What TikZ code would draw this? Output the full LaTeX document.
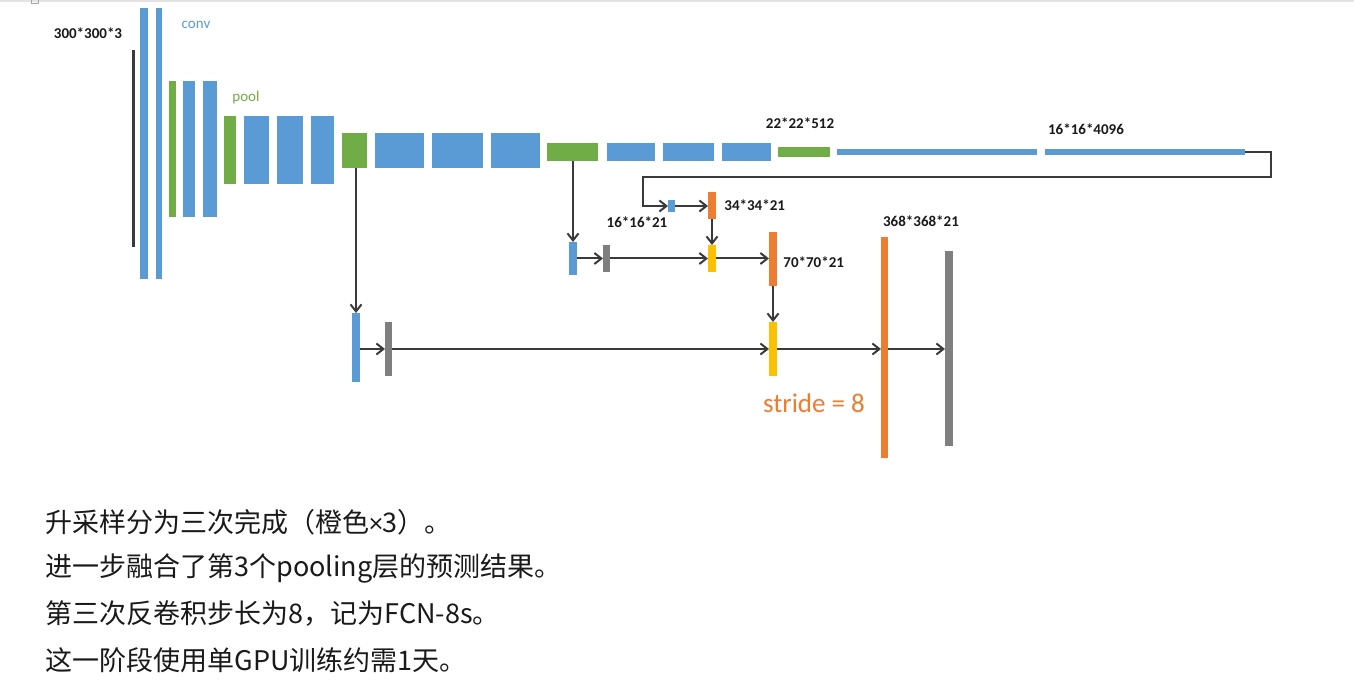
\documentclass[tikz,border=0pt]{standalone}
\usepackage{fontspec}
\setmainfont{Carlito}
\newfontfamily\cjk{Noto Sans CJK SC}
\usetikzlibrary{arrows.meta,positioning}

\definecolor{convblue}{HTML}{5B9BD5}
\definecolor{poolgreen}{HTML}{70AD47}
\definecolor{uporange}{HTML}{ED7D31}
\definecolor{fuseyellow}{HTML}{FFC000}
\definecolor{cropgray}{HTML}{7F7F7F}
\definecolor{linegray}{HTML}{3A3A3A}
\definecolor{textblack}{HTML}{1A1A1A}

\tikzset{
  blk/.style 2 args={rectangle, inner sep=0pt, outer sep=0pt,
    minimum width=#1*0.5pt, minimum height=#2*0.5pt},
  convbar/.style 2 args={blk={#1}{#2}, fill=convblue},
  poolbar/.style 2 args={blk={#1}{#2}, fill=poolgreen},
  upbar/.style 2 args={blk={#1}{#2}, fill=uporange},
  fusebar/.style 2 args={blk={#1}{#2}, fill=fuseyellow},
  cropbar/.style 2 args={blk={#1}{#2}, fill=cropgray},
  link/.style={draw=linegray, line width=1pt},
  arr/.style={link, -{Straight Barb[length=3.5pt,width=5.5pt]}},
  dim/.style={inner sep=0pt, text=textblack, font=\bfseries\fontsize{7.5}{9}\selectfont},
  tag/.style={inner sep=0pt, font=\fontsize{7.5}{9}\selectfont},
  note/.style={anchor=west, inner sep=0pt, text=textblack,
    font=\cjk\fontsize{13.5}{16}\selectfont},
}

\begin{document}
\begin{tikzpicture}[x=0.5pt,y=-0.5pt]
  \useasboundingbox (0,0) rectangle (1354,689);
  \fill[white] (0,0) rectangle (1354,689);
  \draw[line width=1.5pt, gray!22] (0,1) -- (1354,1);
  \draw[line width=0.4pt, gray!70] (31,-3) rectangle (38,3);

  % encoder
  \node[blk={3}{197}, fill=linegray] (img) at (133.5,148.5) {};
  \node[convbar={8}{271}] (c11) at (144,143.5) {};
  \node[convbar={6}{271}] (c12) at (159,143.5) {};
  \node[poolbar={7}{136}] (p1) at (172.5,149) {};
  \node[convbar={12}{136}] (c21) at (189,149) {};
  \node[convbar={14}{136}] (c22) at (210,149) {};
  \node[poolbar={12}{68}] (p2) at (230,150) {};
  \node[convbar={25}{68}] (c31) at (256.5,150) {};
  \node[convbar={26}{68}] (c32) at (290,150) {};
  \node[convbar={23}{68}] (c33) at (322.5,150) {};
  \node[poolbar={25}{35}] (p3) at (354.5,150.5) {};
  \node[convbar={49}{35}] (c41) at (399.5,150.5) {};
  \node[convbar={51}{35}] (c42) at (457.5,150.5) {};
  \node[convbar={49}{35}] (c43) at (515.5,150.5) {};
  \node[poolbar={51}{18}] (p4) at (572.5,152) {};
  \node[convbar={48}{18}] (c51) at (631,152) {};
  \node[convbar={51}{18}] (c52) at (688.5,152) {};
  \node[convbar={49}{18}] (c53) at (746.5,152) {};
  \node[poolbar={52}{10}] (p5) at (804,152) {};
  \node[convbar={200}{6}] (fc6) at (937,152) {};
  \node[convbar={200}{6}] (fc7) at (1145,152) {};

  % decoder
  \node[convbar={7}{12}] (score32) at (671.5,206) {};
  \node[upbar={8}{27}] (up2a) at (712,205.5) {};
  \node[convbar={8}{33}] (score16) at (573,258.5) {};
  \node[cropbar={7}{27}] (crop16) at (606.5,258.5) {};
  \node[fusebar={8}{27}] (fuse16) at (712,258.5) {};
  \node[upbar={8}{54}] (up2b) at (773,259) {};
  \node[convbar={8}{69}] (score8) at (356,347.5) {};
  \node[cropbar={7}{54}] (crop8) at (388.5,349) {};
  \node[fusebar={8}{54}] (fuse8) at (773,349) {};
  \node[upbar={7}{221}] (up8) at (884.5,347.5) {};
  \node[cropbar={8}{195}] (out) at (949,348.5) {};

  % connectors
  \coordinate (back) at (643,177);
  \draw[arr] (fc7.east) -| ++(26,25) -- (back) |- (score32.west);
  \draw[arr] (score32.east) -- (score32.east -| up2a.west);
  \draw[arr] (up2a.south) -- (fuse16.north);
  \draw[arr] (p4.south -| score16.north) -- (score16.north);
  \draw[arr] (score16.east) -- (crop16.west);
  \draw[arr] (crop16.east) -- (fuse16.west);
  \draw[arr] (fuse16.east) -- (fuse16.east -| up2b.west);
  \draw[arr] (up2b.south) -- (fuse8.north);
  \draw[arr] (p3.south -| score8.north) -- (score8.north);
  \draw[arr] (crop8.west -| score8.east) -- (crop8.west);
  \draw[arr] (crop8.east) -- (fuse8.west);
  \draw[arr] (fuse8.east) -- (fuse8.east -| up8.west);
  \draw[arr] (fuse8.east -| up8.east) -- (fuse8.east -| out.west);

  % labels
  \node[dim] (t300) at (88,33) {300*300*3};
  \node[tag, text=convblue] (tconv) at (196,25) {conv};
  \node[tag, text=poolgreen] (tpool) at (246,98) {pool};
  \node[dim] (t512) at (800,123) {22*22*512};
  \node[dim] (t4096) at (1086,129) {16*16*4096};
  \node[dim, right=4pt of up2a] (t34) {34*34*21};
  \node[dim] (t16) at (637,222) {16*16*21};
  \node[dim, anchor=west] (t70) at (783,262) {70*70*21};
  \node[dim] (t368) at (921,221) {368*368*21};
  \node[inner sep=0pt, text=uporange, font=\fontsize{13.5}{16}\selectfont]
    (tstride) at (814,403) {stride = 8};

  % notes
  \node[note] (n1) at (45,522) {升采样分为三次完成（橙色{\rmfamily ×}3）。};
  \node[note] (n2) at (45,568) {进一步融合了第3个pooling层的预测结果。};
  \node[note] (n3) at (45,614) {第三次反卷积步长为8，记为FCN-8s。};
  \node[note] (n4) at (45,660) {这一阶段使用单GPU训练约需1天。};
\end{tikzpicture}
\end{document}
